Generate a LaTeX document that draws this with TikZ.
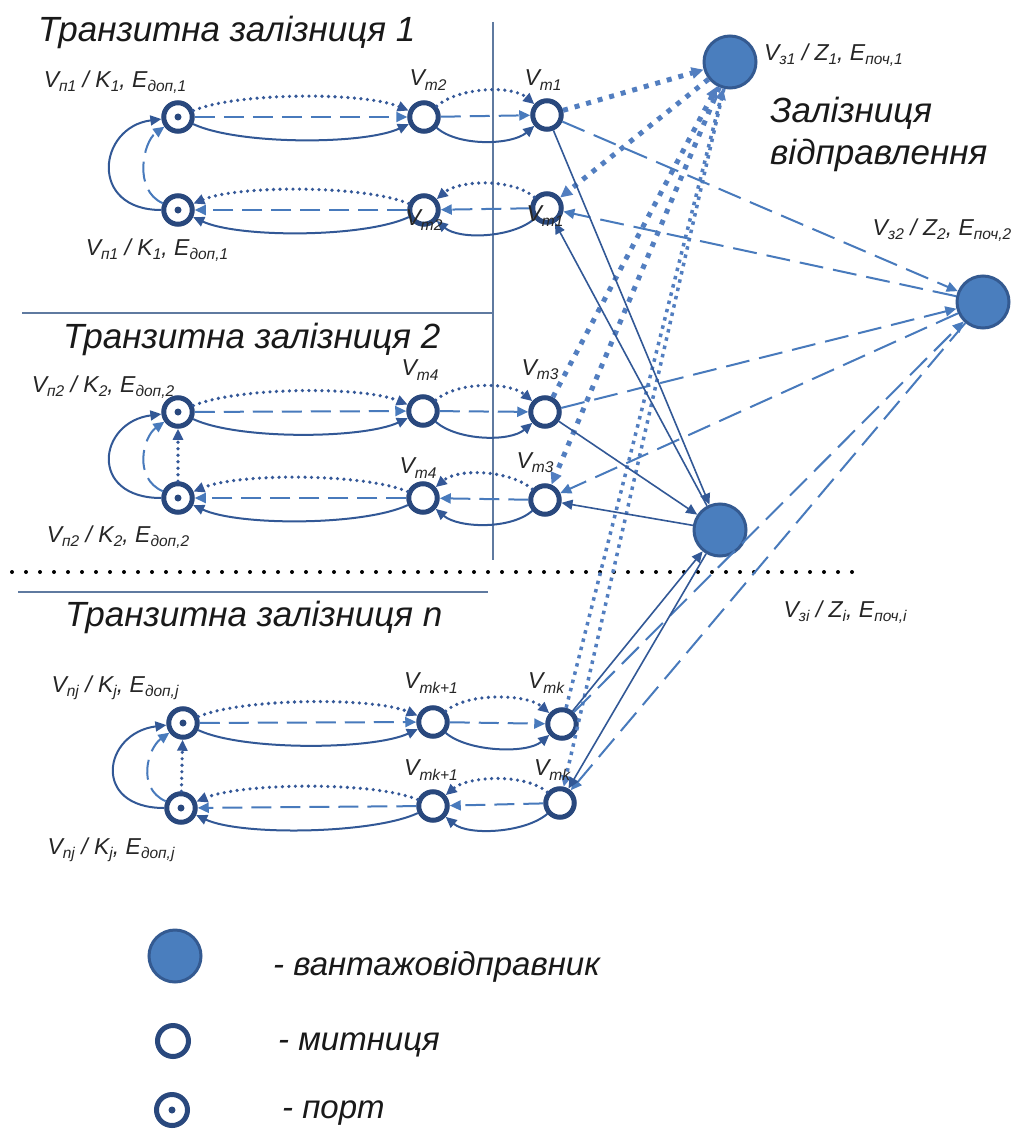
\documentclass[tikz,border=0pt]{standalone}
\usepackage{fontspec}
\setmainfont{Liberation Sans}
\usetikzlibrary{arrows.meta}
\definecolor{nodeblue}{RGB}{41,72,125}
\definecolor{shipfill}{RGB}{74,126,190}
\definecolor{shipdraw}{RGB}{52,90,145}
\definecolor{solcol}{RGB}{50,88,150}
\definecolor{dashcol}{RGB}{72,122,188}
\definecolor{dotcol}{RGB}{52,88,152}
\definecolor{dotbig}{RGB}{82,126,192}
\definecolor{sepcol}{RGB}{95,122,160}
\newcommand\vs[2]{#1\raisebox{-0.35ex}{\fontsize{15.5}{16}\selectfont#2}}
\newcommand\mylabfont{\fontsize{23}{26}\selectfont\itshape}
\newcommand\myttlfont{\fontsize{35}{40}\selectfont\itshape}
\newcommand\mylegfont{\fontsize{33}{38}\selectfont\itshape}
\tikzset{
  cust/.style={circle, draw=nodeblue, line width=5pt, fill=white, minimum size=28.5pt, inner sep=0pt},
  portn/.style={cust, path picture={\fill[nodeblue] (path picture bounding box.center) circle (3.5pt);}},
  ship/.style={circle, draw=shipdraw, fill=shipfill, line width=3pt, minimum size=52pt, inner sep=0pt},
  lab/.style={font=\mylabfont, inner sep=0pt, text=black!85},
  ttl/.style={font=\myttlfont, inner sep=0pt, anchor=base west, text=black!90},
  leg/.style={font=\mylegfont, inner sep=0pt, anchor=base west, text=black!90},
  tipa/.style={-{Triangle[length=11pt,width=10pt]}},
  soll/.style={draw=solcol, line width=2pt, tipa},
  solthin/.style={draw=solcol, line width=1.6pt, tipa},
  dashl/.style={draw=dashcol, line width=2pt, dash pattern=on 20pt off 9pt, tipa},
  dashlong/.style={draw=dashcol, line width=2pt, dash pattern=on 24pt off 10pt, tipa},
  dotl/.style={draw=dotcol, line width=3.6pt, line cap=round, dash pattern=on 0pt off 6.5pt, tipa},
  dotmed/.style={draw=dotbig, line width=3.5pt, dash pattern=on 3.5pt off 5pt, tipa},
  dotthick/.style={draw=dotbig, line width=5pt, dash pattern=on 5pt off 7pt, -{Triangle[length=12pt,width=11pt]}},
  sepline/.style={draw=sepcol, line width=1.2pt},
  blackdots/.style={draw=black, line width=4pt, line cap=round, dash pattern=on 0pt off 14pt},
}
% one transit railway group: top row a, bottom row b
\newcommand\railgroup[6]{%
  \draw[dotl] (#1) .. controls +(60,-25) and +(-60,-25) .. (#2);
  \draw[dashl] (#1) -- (#2);
  \draw[soll] (#1) .. controls +(60,28) and +(-60,28) .. (#2);
  \draw[dotl] (#2) .. controls +(35,-30) and +(-35,-30) .. (#3);
  \draw[dashl] (#2) -- (#3);
  \draw[soll] (#2) .. controls +(35,30) and +(-35,30) .. (#3);
  \draw[dotl] (#6) .. controls +(-35,-30) and +(35,-30) .. (#5);
  \draw[dashl] (#6) -- (#5);
  \draw[soll] (#6) .. controls +(-35,30) and +(35,30) .. (#5);
  \draw[dotl] (#5) .. controls +(-60,-25) and +(60,-25) .. (#4);
  \draw[dashl] (#5) -- (#4);
  \draw[soll] (#5) .. controls +(-60,28) and +(60,28) .. (#4);
  \draw[soll] (#4) .. controls +(-90,0) and +(-80,10) .. (#1);
  \draw[dashl] (#4) .. controls +(-45,-20) and +(-35,25) .. (#1);
}
\begin{document}
\begin{tikzpicture}[x=1pt,y=-1pt]
\useasboundingbox[fill=white] (0,0) rectangle (1024,1129);

% separators
\draw[sepline] (22,313) -- (493,313);
\draw[sepline] (493,22) -- (493,560);
\draw[sepline] (18,592) -- (488,592);
\draw[blackdots] (12,572) -- (862,572);

% titles
\node[ttl] (title1) at (38,42) {Транзитна залізниця 1};
\node[ttl] (title2) at (63,348) {Транзитна залізниця 2};
\node[ttl] (titlen) at (65,626) {Транзитна залізниця n};
\node[ttl] (dep1) at (770,122) {Залізниця};
\node[ttl] (dep2) at (770,164) {відправлення};

% nodes group 1
\node[portn] (P1a) at (178,117) {};
\node[cust]  (T2a) at (424,117) {};
\node[cust]  (T1a) at (547,115) {};
\node[portn] (P1b) at (178,210) {};
\node[cust]  (T2b) at (424,210) {};
\node[cust]  (T1b) at (547,208) {};
% group 2
\node[portn] (P2a) at (178,412) {};
\node[cust]  (T4a) at (423,411) {};
\node[cust]  (T3a) at (545,412) {};
\node[portn] (P2b) at (178,498) {};
\node[cust]  (T4b) at (423,498) {};
\node[cust]  (T3b) at (545,500) {};
% group n
\node[portn] (Pja) at (183,723) {};
\node[cust]  (Tk1a) at (433,722) {};
\node[cust]  (Tka) at (562,724) {};
\node[portn] (Pjb) at (181,808) {};
\node[cust]  (Tk1b) at (433,806) {};
\node[cust]  (Tkb) at (560,803) {};
% shippers
\node[ship] (Z1) at (730,62) {};
\node[ship] (Z2) at (983,302) {};
\node[ship] (Zi) at (720,530) {};

% group connectors
\railgroup{P1a}{T2a}{T1a}{P1b}{T2b}{T1b}
\railgroup{P2a}{T4a}{T3a}{P2b}{T4b}{T3b}
\railgroup{Pja}{Tk1a}{Tka}{Pjb}{Tk1b}{Tkb}
\draw[dotl] (P2b) -- (P2a);
\draw[dotl] (Pjb) -- (Pja);

% cross connectors
\draw[dotthick] (T1a) -- (Z1);
\draw[dotthick] (Z1) -- (T1b);
\draw[dotthick] (T3a) -- (Z1);
\draw[dotthick] (Z1) -- (T3b);
\draw[dotmed] (Tka) -- (Z1);
\draw[dotmed] (Z1) -- (Tkb);
\draw[dashlong] (T1a) -- (Z2);
\draw[dashlong] (Z2) -- (T1b);
\draw[dashlong] (T3a) -- (Z2);
\draw[dashlong] (Z2) -- (T3b);
\draw[dashlong] (Tka) -- (Z2);
\draw[dashlong] (Z2) -- (Tkb);
\draw[solthin] (T1a) -- (Zi);
\draw[solthin] (Zi) -- (T1b);
\draw[solthin] (T3a) -- (Zi);
\draw[solthin] (Zi) -- (T3b);
\draw[solthin] (Tka) -- (Zi);
\draw[solthin] (Zi) -- (Tkb);

% labels
\node[lab] (LP1a) at (115,82) {\vs{V}{п1} / \vs{K}{1}, \vs{E}{доп,1}};
\node[lab] (LP1b) at (157,250) {\vs{V}{п1} / \vs{K}{1}, \vs{E}{доп,1}};
\node[lab] (LT2a) at (428,80) {\vs{V}{т2}};
\node[lab] (LT1a) at (543,80) {\vs{V}{т1}};
\node[lab] (LT2b) at (424,220) {\vs{V}{т2}};
\node[lab] (LT1b) at (545,216) {\vs{V}{т1}};
\node[lab, anchor=west] (LZ1) at (764,55) {\vs{V}{з1} / \vs{Z}{1}, \vs{E}{поч,1}};
\node[lab] (LZ2) at (942,230) {\vs{V}{з2} / \vs{Z}{2}, \vs{E}{поч,2}};
\node[lab] (LZi) at (845,612) {\vs{V}{зi} / \vs{Z}{i}, \vs{E}{поч,i}};
\node[lab] (LP2a) at (103,387) {\vs{V}{п2} / \vs{K}{2}, \vs{E}{доп,2}};
\node[lab] (LP2b) at (118,537) {\vs{V}{п2} / \vs{K}{2}, \vs{E}{доп,2}};
\node[lab] (LT4a) at (420,370) {\vs{V}{т4}};
\node[lab] (LT4b) at (418,468) {\vs{V}{т4}};
\node[lab] (LT3a) at (540,370) {\vs{V}{т3}};
\node[lab] (LT3b) at (535,463) {\vs{V}{т3}};
\node[lab] (LPja) at (115,688) {\vs{V}{nj} / \vs{K}{j}, \vs{E}{доп,j}};
\node[lab] (LPjb) at (111,850) {\vs{V}{nj} / \vs{K}{j}, \vs{E}{доп,j}};
\node[lab] (LTk1a) at (431,683) {\vs{V}{тk+1}};
\node[lab] (LTk1b) at (431,770) {\vs{V}{тk+1}};
\node[lab] (LTka) at (546,683) {\vs{V}{тk}};
\node[lab] (LTkb) at (552,770) {\vs{V}{тk}};

% legend
\node[ship, minimum size=52pt] (Lship) at (175,956) {};
\node[cust, minimum size=31pt] (Lcust) at (173,1041) {};
\node[portn, minimum size=31pt] (Lport) at (172,1110) {};
\node[leg] (Tship) at (273,975) {- вантажовідправник};
\node[leg] (Tcust) at (278,1050) {- митниця};
\node[leg] (Tport) at (282,1118) {- порт};
\end{tikzpicture}
\end{document}
